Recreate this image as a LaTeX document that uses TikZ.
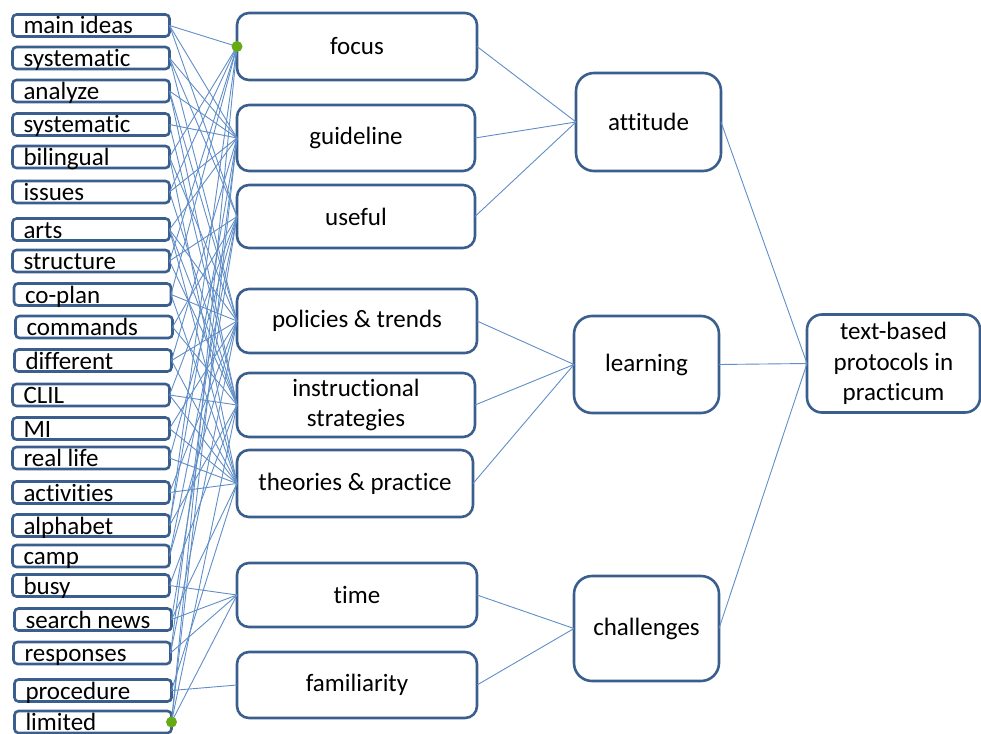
\documentclass[tikz,border=0pt]{standalone}
\usepackage{fontspec}
\setmainfont{Carlito}[Ligatures={NoCommon}]
\definecolor{boxc}{RGB}{58,95,142}
\definecolor{linec}{RGB}{96,142,200}
\definecolor{dotc}{RGB}{102,170,20}
\newcommand{\ltxt}[1]{\smash{\raisebox{-8.5pt}{#1}}}
\tikzset{
  lbox/.style={draw=boxc, line width=2.6pt, rounded corners=4pt, minimum width=157pt, minimum height=22pt,
    inner xsep=11pt, inner ysep=0pt, outer sep=0pt, text width=135pt, align=flush left,
    font=\fontsize{25}{30}\selectfont},
  mbox/.style={draw=boxc, line width=2.6pt, rounded corners=12pt, inner sep=0pt, outer sep=0pt, align=center,
    font=\fontsize{25}{30.5}\selectfont},
  rbox/.style={mbox, rounded corners=18pt},
  conn/.style={draw=linec, line width=0.9pt},
  gdot/.style={circle, fill=dotc, minimum size=11pt, inner sep=0pt}
}
\begin{document}
\begin{tikzpicture}[x=1pt,y=-1pt]
\useasboundingbox (0,0) rectangle (981,733);
% left codes
\node[lbox] (l1) at (91,25.5) {\ltxt{main ideas}};
\node[lbox] (l2) at (91,58) {\ltxt{systematic}};
\node[lbox] (l3) at (91,91) {\ltxt{analyze}};
\node[lbox] (l4) at (91,124.5) {\ltxt{systematic}};
\node[lbox] (l5) at (91,157) {\ltxt{bilingual}};
\node[lbox] (l6) at (91,192) {\ltxt{issues}};
\node[lbox] (l7) at (91,229.5) {\ltxt{arts}};
\node[lbox] (l8) at (91,261) {\ltxt{structure}};
\node[lbox] (l9) at (92.5,294.5) {\ltxt{co-plan}};
\node[lbox] (l10) at (94,327) {\ltxt{commands}};
\node[lbox] (l11) at (93,360.5) {\ltxt{different}};
\node[lbox] (l12) at (91,395) {\ltxt{CLIL}};
\node[lbox] (l13) at (91,428.5) {\ltxt{MI}};
\node[lbox] (l14) at (91,458) {\ltxt{real life}};
\node[lbox] (l15) at (91,492.5) {\ltxt{activities}};
\node[lbox] (l16) at (91,525.5) {\ltxt{alphabet}};
\node[lbox] (l17) at (91,556) {\ltxt{camp}};
\node[lbox] (l18) at (91,585.5) {\ltxt{busy}};
\node[lbox] (l19) at (93,619.5) {\ltxt{search news}};
\node[lbox] (l20) at (92,653) {\ltxt{responses}};
\node[lbox] (l21) at (93,690.5) {\ltxt{procedure}};
\node[lbox] (l22) at (93,722) {\ltxt{limited}};
% middle categories
\node[mbox, minimum width=240pt, minimum height=67pt] (focus) at (357,46.5) {focus};
\node[mbox, minimum width=238pt, minimum height=66pt] (guide) at (356,138) {guideline};
\node[mbox, minimum width=238pt, minimum height=63pt] (useful) at (356,216.5) {useful};
\node[mbox, minimum width=240pt, minimum height=64pt] (policy) at (357,321) {policies \& trends};
\node[mbox, minimum width=238pt, minimum height=64pt] (instr) at (356,405) {instructional\\strategies};
\node[mbox, minimum width=236pt, minimum height=67pt] (theory) at (355,483.5) {theories \& practice};
\node[mbox, minimum width=240pt, minimum height=64pt] (time) at (357,595) {time};
\node[mbox, minimum width=240pt, minimum height=66pt] (famil) at (357,685) {familiarity};
% themes
\node[rbox, minimum width=145pt, minimum height=98pt] (att) at (648.5,122) {attitude};
\node[rbox, minimum width=145pt, minimum height=97pt] (learn) at (646.5,364.5) {learning};
\node[rbox, minimum width=145pt, minimum height=105pt] (chall) at (646.5,628.5) {challenges};
\node[mbox, rounded corners=15pt, minimum width=173pt, minimum height=98pt] (tbp) at (893.5,363.5) {text-based\\protocols in\\practicum};
% code -> category
\foreach \a/\b in {l1/focus,l1/guide,l1/useful,
  l2/guide,l2/useful,l2/policy,
  l3/guide,l3/policy,l3/instr,
  l4/guide,l4/instr,
  l5/focus,l5/policy,l5/theory,
  l6/focus,l6/guide,l6/instr,
  l7/guide,l7/policy,l7/instr,l7/theory,
  l8/focus,l8/useful,l8/instr,
  l9/focus,l9/policy,l9/theory,
  l10/useful,l10/instr,
  l11/guide,l11/policy,l11/theory,
  l12/useful,l12/instr,l12/theory,
  l13/policy,l13/theory,
  l14/useful,l14/theory,
  l15/policy,l15/theory,
  l16/focus,l16/guide,l16/instr,
  l17/useful,l17/policy,
  l18/time,l18/instr,
  l19/time,l19/theory,l19/useful,
  l20/time,l20/policy,l20/guide,
  l21/famil,l21/theory,
  l22/time,l22/focus,l22/guide,l22/instr}
  \draw[conn] (\a.east) -- (\b.west);
% category -> theme
\foreach \a/\b in {focus/att,guide/att,useful/att,policy/learn,instr/learn,theory/learn,time/chall,famil/chall}
  \draw[conn] (\a.east) -- (\b.west);
% theme -> core
\foreach \a in {att,learn,chall}
  \draw[conn] (\a.east) -- (tbp.west);
% selection handles
\node[gdot] (d1) at (focus.west) {};
\node[gdot] (d2) at (l22.east) {};
\end{tikzpicture}
\end{document}
